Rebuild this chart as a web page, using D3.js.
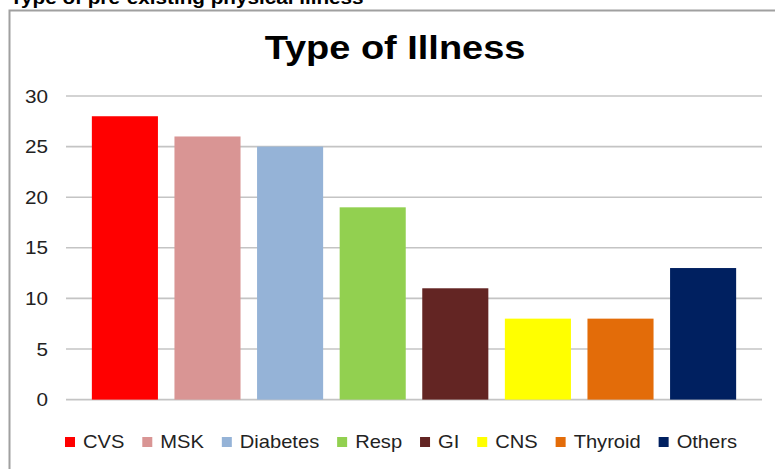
<!DOCTYPE html>
<html><head><meta charset="utf-8">
<script src="https://cdn.jsdelivr.net/npm/d3@7"></script>
<style>html,body{margin:0;padding:0;background:#fff;overflow:hidden}</style>
</head><body>
<svg id="c" width="775" height="469"></svg>
<script>
const categories = ["CVS","MSK","Diabetes","Resp","GI","CNS","Thyroid","Others"];
const values = [28,26,25,19,11,8,8,13];
const colors = ["#FF0000","#D99594","#95B3D7","#92D050","#632523","#FFFF00","#E36C09","#002060"];
const yTicks = [0,5,10,15,20,25,30];
const chartTitle = "Type of Illness";
const pageCaption = "Type of pre-existing physical illness";

const svg = d3.select("#c");
const SX = 1.15;
const font = "'Liberation Sans', Arial, sans-serif";

// page caption (cut at top)
svg.append("text").attr("transform","translate(10,4) scale(1.15,1)")
  .attr("font-family",font).attr("font-weight","bold").attr("font-size",18)
  .attr("fill","#000").text(pageCaption);

// frame
svg.append("path").attr("d","M9.5,480 V10.5 H790").attr("fill","none")
  .attr("stroke","#a0a0a0").attr("stroke-width",2);

const x = d3.scaleBand().domain(categories).range([66,762]).paddingInner(0.2).paddingOuter(0.313);
const y = d3.scaleLinear().domain([0,30]).range([399.6,96]);

// grid
svg.append("g").selectAll("line").data(yTicks).join("line")
  .attr("x1",66).attr("x2",762).attr("y1",d=>y(d)).attr("y2",d=>y(d))
  .attr("stroke","#c4c4c4").attr("stroke-width",1.6);

// y labels
svg.append("g").selectAll("text").data(yTicks).join("text")
  .attr("transform",d=>`translate(48,${y(d)+6.5}) scale(${SX},1)`)
  .attr("text-anchor","end").attr("font-family",font).attr("font-size",18)
  .attr("fill","#222").text(d=>d);

// bars
svg.append("g").selectAll("rect").data(values).join("rect")
  .attr("x",(d,i)=>x(categories[i])).attr("width",x.bandwidth())
  .attr("y",d=>y(d)).attr("height",d=>y(0)-y(d))
  .attr("fill",(d,i)=>colors[i]);

// title
svg.append("text").attr("transform",`translate(395,59) scale(${SX},1)`)
  .attr("text-anchor","middle").attr("font-family",font).attr("font-weight","bold")
  .attr("font-size",33).attr("fill","#000").text(chartTitle);

// legend
const lg = svg.append("g");
const items = lg.selectAll("g").data(categories).join("g");
items.append("rect").attr("width",10).attr("height",10).attr("y",-11)
  .attr("fill",(d,i)=>colors[i]);
items.append("text").attr("transform",`translate(18,0) scale(${SX},1)`)
  .attr("font-family",font).attr("font-size",17.5).attr("fill","#222").text(d=>d);
const widths = [];
items.each(function(){ widths.push(this.querySelector("text").getComputedTextLength()*SX + 18); });
const totalW = 737-65;
const gap = (totalW - d3.sum(widths))/(categories.length-1);
let cx = 65;
items.each(function(d,i){ d3.select(this).attr("transform",`translate(${cx},448)`); cx += widths[i]+gap; });
</script>
</body></html>
